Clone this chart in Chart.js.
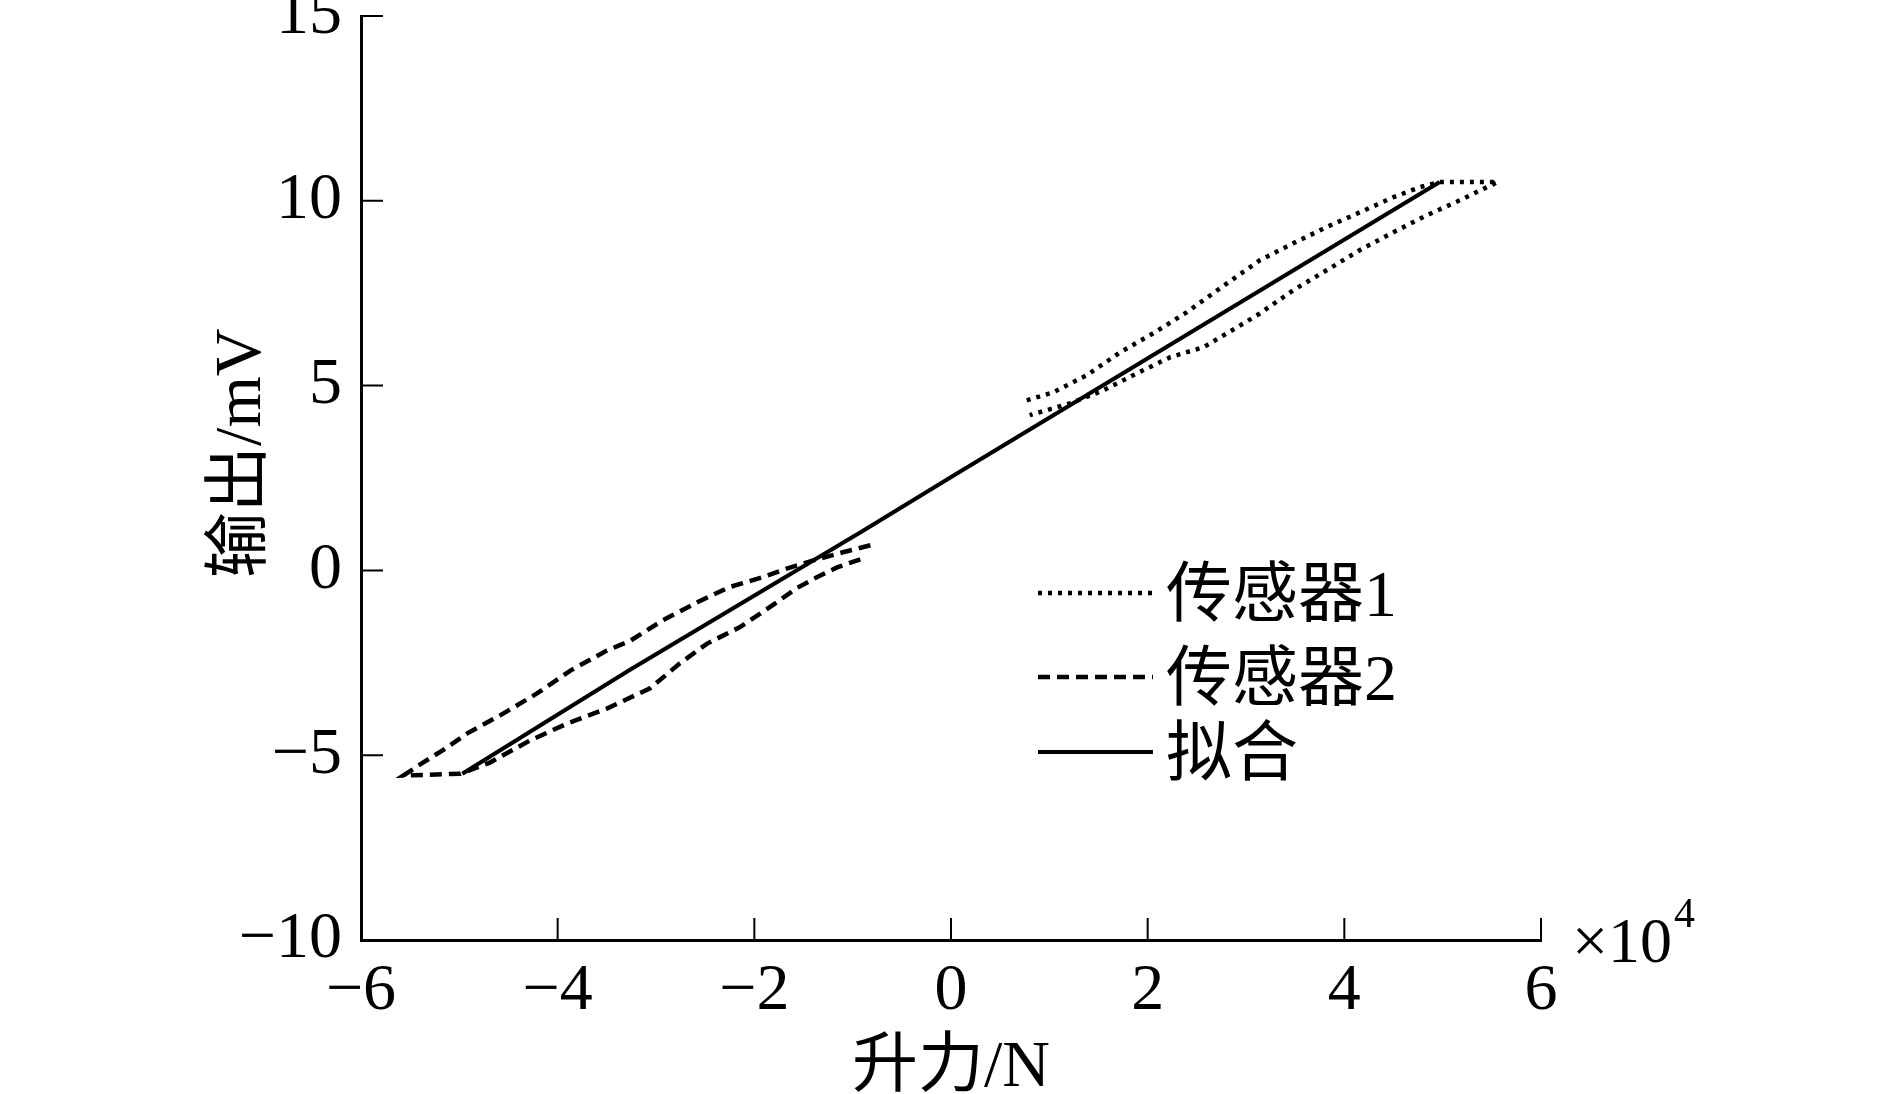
<!DOCTYPE html>
<html>
<head>
<meta charset="utf-8">
<script src="https://cdn.jsdelivr.net/npm/chart.js@4.4.0/dist/chart.umd.min.js"></script>
<style>
  html, body { margin: 0; padding: 0; background: #fff; overflow: hidden; }
</style>
</head>
<body>
<canvas id="chart" width="1889" height="1094"></canvas>
<script>
const FONT = "'Liberation Serif', 'Noto Sans CJK SC', serif";

const xTicks = [-6, -4, -2, 0, 2, 4, 6];
const yTicks = [-10, -5, 0, 5, 10, 15];

// 传感器1 (x in 1e4 N, y in mV) - upper branch, then lower branch back
const s1X = [0.77, 1.04, 1.38, 1.72, 2.06, 2.40, 2.74, 3.14, 3.48, 3.82, 4.16, 4.50, 4.77, 4.97, 5.56,
             5.45, 5.18, 4.84, 4.50, 4.16, 3.82, 3.48, 3.14, 2.91, 2.57, 2.23, 1.89, 1.55, 1.21, 0.80];
const s1Y = [4.60, 4.82, 5.28, 5.90, 6.42, 6.99, 7.64, 8.39, 8.85, 9.29, 9.69, 10.10, 10.37, 10.51, 10.51,
             10.37, 10.02, 9.61, 9.15, 8.67, 8.12, 7.58, 6.95, 6.58, 6.04, 5.77, 5.33, 4.87, 4.52, 4.20];

// 传感器2
const s2X = [-0.82, -1.10, -1.40, -1.67, -1.91, -2.25, -2.58, -2.93, -3.26, -3.50, -3.87, -4.21, -4.59, -4.92, -5.17, -5.37, -5.57,
             -4.99, -4.69, -4.28, -3.90, -3.50, -3.06, -2.76, -2.48, -2.15, -1.94, -1.77, -1.57, -1.36, -1.16, -0.87];
const s2Y = [0.68, 0.49, 0.27, 0.05, -0.18, -0.45, -0.86, -1.35, -1.90, -2.17, -2.71, -3.33, -3.93, -4.41, -4.87, -5.20, -5.55,
             -5.50, -5.20, -4.60, -4.14, -3.74, -3.19, -2.52, -1.98, -1.54, -1.17, -0.86, -0.48, -0.18, 0.08, 0.35];

// 拟合
const fitX = [-4.97, -3.26, -0.89, 0.01, 4.97];
const fitY = [-5.50, -2.68, 1.08, 2.54, 10.51];

const labels = ['传感器1', '传感器2', '拟合'];

function pts(xs, ys) {
  return xs.map((x, i) => ({ x: x, y: ys[i] }));
}

function fmt(v) {
  return v < 0 ? '\u2212' + Math.abs(v) : String(v);
}

const lineStyle = {
  showLine: true,
  pointRadius: 0,
  borderColor: '#000',
  fill: false,
  tension: 0
};

// inward tick marks, legend and the x10^4 note
const extras = {
  id: 'extras',
  afterDraw(chart) {
    const ctx = chart.ctx;
    const { left, bottom } = chart.chartArea;
    const xs = chart.scales.x, ys = chart.scales.y;
    ctx.save();
    ctx.strokeStyle = '#000';
    ctx.lineWidth = 2;
    ctx.beginPath();
    xTicks.forEach(v => {
      const px = xs.getPixelForValue(v);
      ctx.moveTo(px, bottom);
      ctx.lineTo(px, bottom - 22);
    });
    yTicks.forEach(v => {
      const py = ys.getPixelForValue(v);
      ctx.moveTo(left, py);
      ctx.lineTo(left + 22, py);
    });
    ctx.stroke();

    // legend
    const rows = [593, 677, 752];
    chart.data.datasets.forEach((ds, i) => {
      ctx.lineWidth = ds.borderWidth;
      ctx.setLineDash(ds.borderDash || []);
      ctx.beginPath();
      ctx.moveTo(1038, rows[i]);
      ctx.lineTo(1153, rows[i]);
      ctx.stroke();
    });
    ctx.setLineDash([]);
    ctx.fillStyle = '#000';
    ctx.font = '66px ' + FONT;
    ctx.textAlign = 'left';
    ctx.textBaseline = 'middle';
    chart.data.datasets.forEach((ds, i) => {
      ctx.fillText(ds.label, 1166, rows[i] + 6);
    });

    // x10^4
    ctx.textBaseline = 'alphabetic';
    ctx.font = '64px ' + FONT;
    ctx.fillText('\u00d710', 1572, 962);
    ctx.font = '42px ' + FONT;
    ctx.fillText('4', 1674, 927);
    ctx.restore();
  }
};

new Chart(document.getElementById('chart'), {
  type: 'scatter',
  data: {
    datasets: [
      Object.assign({ label: labels[0], data: pts(s1X, s1Y), borderWidth: 4.5, borderDash: [4, 6] }, lineStyle),
      Object.assign({ label: labels[1], data: pts(s2X, s2Y), borderWidth: 4.5, borderDash: [12, 7] }, lineStyle),
      Object.assign({ label: labels[2], data: pts(fitX, fitY), borderWidth: 4 }, lineStyle)
    ]
  },
  options: {
    responsive: false,
    animation: false,
    layout: { padding: { left: 0, right: 348, top: 16, bottom: 0 } },
    plugins: { legend: { display: false }, tooltip: { enabled: false } },
    scales: {
      x: {
        type: 'linear',
        position: 'bottom',
        min: -6,
        max: 6,
        afterBuildTicks: s => { s.ticks = xTicks.map(v => ({ value: v })); },
        afterFit: s => { s.height = 154; s.paddingLeft = 0; s.paddingRight = 0; },
        grid: { display: false, drawTicks: false },
        border: { display: true, color: '#000', width: 3 },
        ticks: {
          color: '#000',
          padding: 12,
          maxRotation: 0,
          autoSkip: false,
          font: { family: FONT, size: 66 },
          callback: v => fmt(v)
        },
        title: {
          display: true,
          text: '升力/N',
          color: '#000',
          font: { family: FONT, size: 66 },
          padding: { top: 0, bottom: -14 }
        }
      },
      y: {
        type: 'linear',
        position: 'left',
        min: -10,
        max: 15,
        afterBuildTicks: s => { s.ticks = yTicks.map(v => ({ value: v })); },
        afterFit: s => { s.width = 361; s.paddingTop = 0; s.paddingBottom = 0; },
        grid: { display: false, drawTicks: false },
        border: { display: true, color: '#000', width: 3 },
        ticks: {
          color: '#000',
          padding: 19,
          autoSkip: false,
          font: { family: FONT, size: 66 },
          callback: v => fmt(v)
        },
        title: {
          display: true,
          text: '   输出/mV',
          color: '#000',
          font: { family: FONT, size: 66 },
          padding: { top: 203, bottom: 0 }
        }
      }
    }
  },
  plugins: [extras]
});
</script>
</body>
</html>
